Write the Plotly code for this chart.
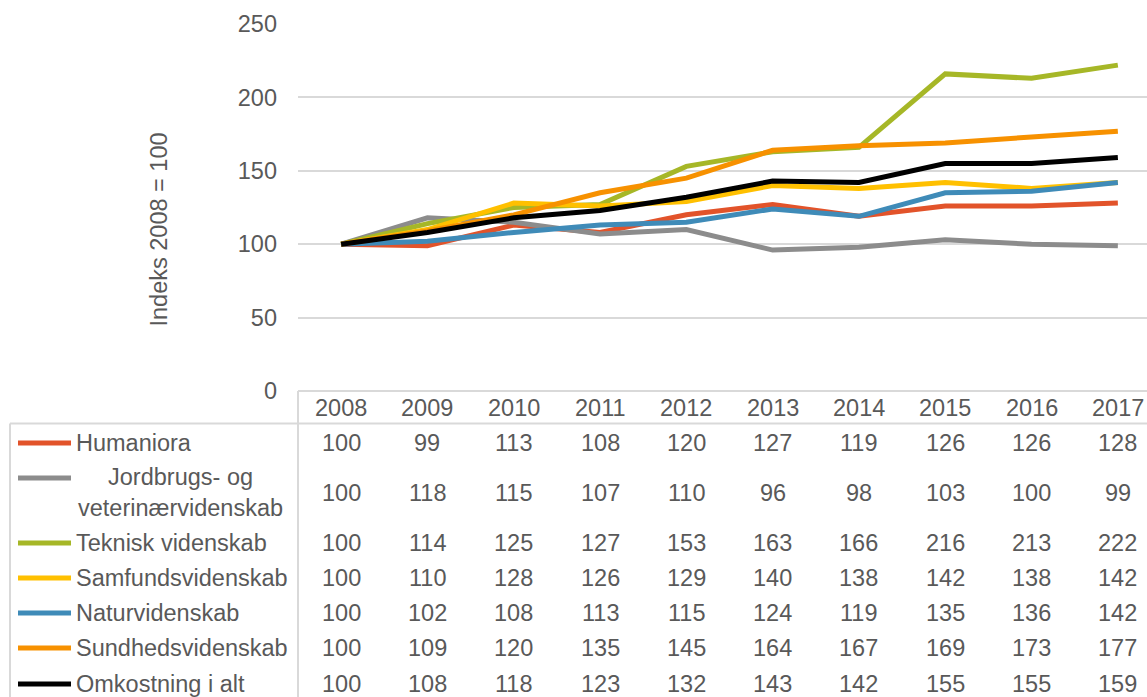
import plotly.graph_objects as go

years = ["2008", "2009", "2010", "2011", "2012", "2013", "2014", "2015", "2016", "2017"]

series_names = ["Humaniora", "Jordbrugs- og<br>veterinærvidenskab", "Teknisk videnskab",
                "Samfundsvidenskab", "Naturvidenskab", "Sundhedsvidenskab", "Omkostning i alt"]

humaniora = [100, 99, 113, 108, 120, 127, 119, 126, 126, 128]
jordbrugs = [100, 118, 115, 107, 110, 96, 98, 103, 100, 99]
teknisk = [100, 114, 125, 127, 153, 163, 166, 216, 213, 222]
samfunds = [100, 110, 128, 126, 129, 140, 138, 142, 138, 142]
natur = [100, 102, 108, 113, 115, 124, 119, 135, 136, 142]
sundheds = [100, 109, 120, 135, 145, 164, 167, 169, 173, 177]
omkostning = [100, 108, 118, 123, 132, 143, 142, 155, 155, 159]

all_values = [humaniora, jordbrugs, teknisk, samfunds, natur, sundheds, omkostning]
colors = ["#E2532A", "#8C8C8C", "#A6B727", "#FFC000", "#3F8BB8", "#F79100", "#000000"]

y_ticks = [0, 50, 100, 150, 200, 250]
y_title = "Indeks 2008 = 100"

W, H = 1147, 697
L, R, T, B = 298, 0, 24, 306
plot_h = H - T - B  # 367
plot_bottom = H - B  # 391

def py(ypix):
    return (plot_bottom - ypix) / plot_h

def px(xpix):
    return (xpix - L) / (W - L - R)

TXT = "#595959"
FONT = "Liberation Sans, Arial, sans-serif"
FS = 23.5
GRID = "#D9D9D9"

fig = go.Figure()
for name, vals, col in zip(series_names, all_values, colors):
    fig.add_trace(go.Scatter(x=years, y=vals, mode="lines", name=name.replace("<br>", " "),
                             line=dict(color=col, width=5), showlegend=False,
                             hoverinfo="skip"))

annotations = []
shapes = []

annotations.append(dict(text=y_title, xref="paper", yref="paper", x=px(158), y=py(229.5),
                        textangle=-90, showarrow=False, font=dict(size=FS, color=TXT, family=FONT),
                        xanchor="center", yanchor="middle"))

header_y = 408
for i, yr in enumerate(years):
    annotations.append(dict(text=yr, xref="x", yref="paper", x=i, y=py(header_y), showarrow=False,
                            font=dict(size=FS, color=TXT, family=FONT), xanchor="center", yanchor="middle"))

row_centers = [443, 493, 543, 578, 613, 648, 684]
key_ys = [443, 478, 543, 578, 613, 648, 684]

for r, (name, vals, col) in enumerate(zip(series_names, all_values, colors)):
    yc = row_centers[r]
    for i, v in enumerate(vals):
        annotations.append(dict(text=str(v), xref="x", yref="paper", x=i, y=py(yc), showarrow=False,
                                font=dict(size=FS, color=TXT, family=FONT), xanchor="center", yanchor="middle"))
    if "<br>" in name:
        annotations.append(dict(text=name, xref="paper", yref="paper", x=px(180), y=py(yc), showarrow=False,
                                align="center", font=dict(size=FS, color=TXT, family=FONT),
                                xanchor="center", yanchor="middle"))
    else:
        annotations.append(dict(text=name, xref="paper", yref="paper", x=px(74), y=py(yc), showarrow=False,
                                font=dict(size=FS, color=TXT, family=FONT), xanchor="left", yanchor="middle"))
    ky = key_ys[r]
    shapes.append(dict(type="line", xref="paper", yref="paper", x0=px(18), x1=px(71), y0=py(ky), y1=py(ky),
                       line=dict(color=col, width=5), layer="above"))

shapes.append(dict(type="line", xref="paper", yref="paper", x0=px(298), x1=px(1147), y0=py(391), y1=py(391),
                   line=dict(color=GRID, width=2), layer="above"))
shapes.append(dict(type="line", xref="paper", yref="paper", x0=px(10), x1=px(1147), y0=py(423.5), y1=py(423.5),
                   line=dict(color=GRID, width=2)))
shapes.append(dict(type="line", xref="paper", yref="paper", x0=px(298), x1=px(298), y0=py(391), y1=py(700),
                   line=dict(color=GRID, width=2)))
shapes.append(dict(type="line", xref="paper", yref="paper", x0=px(10), x1=px(10), y0=py(423.5), y1=py(700),
                   line=dict(color=GRID, width=2)))

fig.update_layout(
    width=W, height=H,
    margin=dict(l=L, r=R, t=T, b=B),
    paper_bgcolor="white", plot_bgcolor="white",
    font=dict(family=FONT, size=FS, color=TXT),
    hovermode=False,
    xaxis=dict(type="category", categoryorder="array", categoryarray=years,
               range=[-0.5, 9.5 - 14 / 86.3], showgrid=False, showticklabels=False,
               zeroline=False, showline=False, ticks=""),
    yaxis=dict(range=[0, 250], tickvals=y_ticks, showgrid=True, gridcolor=GRID, gridwidth=2,
               zeroline=False, showline=False, ticks="", ticklabelstandoff=20,
               tickfont=dict(size=FS, color=TXT, family=FONT)),
    annotations=annotations, shapes=shapes,
)

fig.write_html("out.html", config={"displayModeBar": False},
               post_script="document.body.style.margin='0px';document.body.style.overflow='hidden';")
